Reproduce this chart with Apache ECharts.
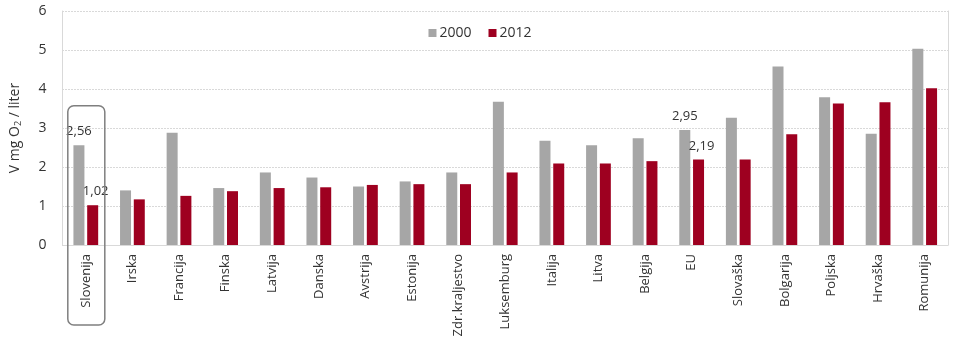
<!DOCTYPE html>
<html>
<head>
<meta charset="utf-8">
<script src="https://cdn.jsdelivr.net/npm/echarts@6/dist/echarts.min.js"></script>
<style>
  html, body { margin: 0; padding: 0; background: #fff; }
  #chart { width: 960px; height: 349px; }
</style>
</head>
<body>
<div id="chart"></div>
<script>
// Countries, ordered by the 2012 value
const categories = ['Slovenija', 'Irska', 'Francija', 'Finska', 'Latvija', 'Danska', 'Avstrija',
  'Estonija', 'Zdr.kraljestvo', 'Luksemburg', 'Italija', 'Litva', 'Belgija', 'EU', 'Slovaška',
  'Bolgarija', 'Poljska', 'Hrvaška', 'Romunija'];

const values2000 = [2.56, 1.40, 2.88, 1.46, 1.86, 1.73, 1.50, 1.63, 1.86, 3.67, 2.67, 2.56, 2.74,
  2.95, 3.26, 4.58, 3.79, 2.85, 5.03];
const values2012 = [1.02, 1.17, 1.26, 1.38, 1.46, 1.48, 1.54, 1.56, 1.56, 1.86, 2.09, 2.09, 2.15,
  2.19, 2.19, 2.84, 3.63, 3.66, 4.02];

const seriesNames = ['2000', '2012'];
const yTicks = [0, 1, 2, 3, 4, 5, 6];
const labelled = ['Slovenija', 'EU'];
const highlighted = 'Slovenija';

const FONT = '"Open Sans", "Noto Sans", sans-serif';
const GREY = '#a6a6a6';
const RED = '#9e0020';
const FRAME = '#d9d9d9';

function fmt(v) { return v.toFixed(2).replace('.', ','); }

function makeData(values, offsetX) {
  return values.map((v, i) => {
    if (labelled.indexOf(categories[i]) < 0) return v;
    return {
      value: v,
      label: {
        show: true, position: 'top', distance: 7, offset: [offsetX, 0],
        formatter: p => fmt(p.value),
        fontFamily: FONT, fontSize: 13, color: '#333'
      }
    };
  });
}

const chart = echarts.init(document.getElementById('chart'), null, { renderer: 'canvas' });

const yMin = yTicks[0];
const yMax = yTicks[yTicks.length - 1];

chart.setOption({
  animation: false,
  textStyle: { fontFamily: FONT },
  grid: { left: 58, right: 12, top: 11, bottom: 104, containLabel: false },
  legend: {
    data: seriesNames, top: 21, left: 'center',
    itemWidth: 8, itemHeight: 8, itemGap: 17,
    textStyle: { fontFamily: FONT, fontSize: 14, color: '#333', padding: [0, 0, 0, -2] },
    icon: 'rect'
  },
  xAxis: {
    type: 'category', data: categories,
    axisLine: { lineStyle: { color: FRAME } },
    axisTick: { show: false },
    axisLabel: { rotate: 90, interval: 0, margin: 9, fontFamily: FONT, fontSize: 13, color: '#333' }
  },
  yAxis: [{
    type: 'value', min: yMin, max: yMax, interval: 1,
    name: 'V mg O{sub|2} / liter',
    nameLocation: 'middle', nameGap: 40, nameRotate: 90,
    nameTextStyle: {
      fontFamily: FONT, fontSize: 14, color: '#333',
      rich: { sub: { fontFamily: FONT, fontSize: 9, color: '#333', verticalAlign: 'bottom', padding: [6, 0, 0, 0] } }
    },
    axisLine: { show: true, lineStyle: { color: FRAME } },
    axisTick: { show: false },
    axisLabel: { margin: 16, fontFamily: FONT, fontSize: 14, color: '#333' },
    splitLine: { lineStyle: { color: '#b3b3b3', type: [1, 2], width: 1 } }
  }, {
    // right-hand frame line only
    type: 'value', min: yMin, max: yMax, interval: 1, position: 'right',
    axisLine: { show: true, lineStyle: { color: FRAME } },
    axisTick: { show: false }, axisLabel: { show: false }, splitLine: { show: false }
  }],
  series: [
    { name: seriesNames[0], type: 'bar', data: makeData(values2000, 0),
      barWidth: 11, barGap: '25%', itemStyle: { color: GREY } },
    { name: seriesNames[1], type: 'bar', data: makeData(values2012, 3),
      barWidth: 11, barGap: '25%', itemStyle: { color: RED } }
  ]
});

// Rounded frame around the highlighted country, placed from the axis scale
const idx = categories.indexOf(highlighted);
const center = chart.convertToPixel({ xAxisIndex: 0 }, idx);
const yTop = chart.convertToPixel({ yAxisIndex: 0 }, 3.57);
chart.setOption({
  graphic: [{
    type: 'rect', silent: true, z: 10,
    shape: { x: center - 18, y: yTop, width: 37, height: 325 - yTop, r: 6 },
    style: { fill: 'none', stroke: '#7f7f7f', lineWidth: 1.5 }
  }]
});
</script>
</body>
</html>
